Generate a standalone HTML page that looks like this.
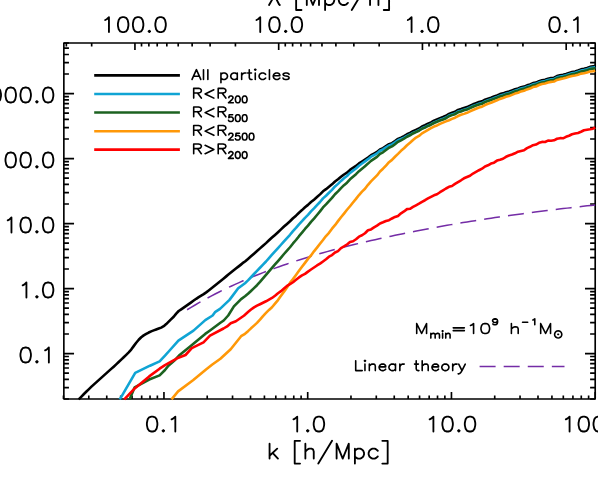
<!DOCTYPE html>
<html><head><meta charset="utf-8"><title>Power spectrum</title>
<style>html,body{margin:0;padding:0;overflow:hidden;background:#fff;font-family:"Liberation Sans",sans-serif}svg{display:block;filter:blur(0.3px)}</style></head>
<body>
<svg width="598" height="482" viewBox="0 0 598 482" role="img" aria-label="Power spectrum versus wavenumber k [h/Mpc] for all particles and for particles inside and outside halo radii, with linear theory">
<rect width="598" height="482" fill="#fff"/>
<path d="M63.85 399h5.1M595.2 399h-5.1M63.85 387.55h5.1M595.2 387.55h-5.1M63.85 379.43h5.1M595.2 379.43h-5.1M63.85 373.13h5.1M595.2 373.13h-5.1M63.85 367.99h5.1M595.2 367.99h-5.1M63.85 363.64h5.1M595.2 363.64h-5.1M63.85 359.87h5.1M595.2 359.87h-5.1M63.85 356.54h5.1M595.2 356.54h-5.1M63.85 353.57h10.2M595.2 353.57h-10.2M63.85 334h5.1M595.2 334h-5.1M63.85 322.56h5.1M595.2 322.56h-5.1M63.85 314.44h5.1M595.2 314.44h-5.1M63.85 308.14h5.1M595.2 308.14h-5.1M63.85 302.99h5.1M595.2 302.99h-5.1M63.85 298.64h5.1M595.2 298.64h-5.1M63.85 294.87h5.1M595.2 294.87h-5.1M63.85 291.55h5.1M595.2 291.55h-5.1M63.85 288.57h10.2M595.2 288.57h-10.2M63.85 269h5.1M595.2 269h-5.1M63.85 257.56h5.1M595.2 257.56h-5.1M63.85 249.44h5.1M595.2 249.44h-5.1M63.85 243.14h5.1M595.2 243.14h-5.1M63.85 237.99h5.1M595.2 237.99h-5.1M63.85 233.64h5.1M595.2 233.64h-5.1M63.85 229.87h5.1M595.2 229.87h-5.1M63.85 226.55h5.1M595.2 226.55h-5.1M63.85 223.57h10.2M595.2 223.57h-10.2M63.85 204.01h5.1M595.2 204.01h-5.1M63.85 192.56h5.1M595.2 192.56h-5.1M63.85 184.44h5.1M595.2 184.44h-5.1M63.85 178.14h5.1M595.2 178.14h-5.1M63.85 173h5.1M595.2 173h-5.1M63.85 168.64h5.1M595.2 168.64h-5.1M63.85 164.87h5.1M595.2 164.87h-5.1M63.85 161.55h5.1M595.2 161.55h-5.1M63.85 158.58h10.2M595.2 158.58h-10.2M63.85 139.01h5.1M595.2 139.01h-5.1M63.85 127.56h5.1M595.2 127.56h-5.1M63.85 119.44h5.1M595.2 119.44h-5.1M63.85 113.14h5.1M595.2 113.14h-5.1M63.85 108h5.1M595.2 108h-5.1M63.85 103.65h5.1M595.2 103.65h-5.1M63.85 99.88h5.1M595.2 99.88h-5.1M63.85 96.55h5.1M595.2 96.55h-5.1M63.85 93.58h10.2M595.2 93.58h-10.2M63.85 74.01h5.1M595.2 74.01h-5.1M63.85 62.57h5.1M595.2 62.57h-5.1M63.85 54.45h5.1M595.2 54.45h-5.1M63.85 48.15h5.1M595.2 48.15h-5.1M63.85 43h5.1M595.2 43h-5.1M63.47 399v-3.5M88.79 399v-3.5M106.75 399v-3.5M120.68 399v-3.5M132.06 399v-3.5M141.68 399v-3.5M150.02 399v-3.5M157.37 399v-3.5M163.95 399v-7.1M207.22 399v-3.5M232.54 399v-3.5M250.5 399v-3.5M264.43 399v-3.5M275.81 399v-3.5M285.43 399v-3.5M293.77 399v-3.5M301.12 399v-3.5M307.7 399v-7.1M350.97 399v-3.5M376.29 399v-3.5M394.25 399v-3.5M408.18 399v-3.5M419.56 399v-3.5M429.18 399v-3.5M437.52 399v-3.5M444.87 399v-3.5M451.45 399v-7.1M494.72 399v-3.5M520.04 399v-3.5M538 399v-3.5M551.93 399v-3.5M563.31 399v-3.5M572.93 399v-3.5M581.27 399v-3.5M588.62 399v-3.5M595.2 399v-7.1M588.46 43v3.5M580.12 43v3.5M572.77 43v3.5M566.19 43v7.1M522.92 43v3.5M497.6 43v3.5M479.64 43v3.5M465.71 43v3.5M454.33 43v3.5M444.71 43v3.5M436.37 43v3.5M429.02 43v3.5M422.44 43v7.1M379.17 43v3.5M353.85 43v3.5M335.89 43v3.5M321.96 43v3.5M310.58 43v3.5M300.96 43v3.5M292.62 43v3.5M285.27 43v3.5M278.69 43v7.1M235.42 43v3.5M210.1 43v3.5M192.14 43v3.5M178.21 43v3.5M166.83 43v3.5M157.21 43v3.5M148.87 43v3.5M141.52 43v3.5M134.94 43v7.1M91.67 43v3.5M66.35 43v3.5" fill="none" stroke="#000" stroke-width="1.65" stroke-linecap="butt"/>
<rect x="63.85" y="43.0" width="531.35" height="356.0" fill="none" stroke="#000" stroke-width="1.65" stroke-linejoin="round"/>
<g fill="none" stroke-linejoin="round" stroke-linecap="butt">
<path d="M187.1 309.76L191.1 307.34L195.1 304.99L199.1 302.69L203.1 300.45L207.1 298.26L211.1 296.12L215.1 294.04L219.1 292.01L223.1 290.03L227.1 288.09L231.1 286.21L235.1 284.36L239.1 282.56L243.1 280.81L247.1 279.09L251.1 277.42L255.1 275.78L259.1 274.18L263.1 272.62L267.1 271.09L271.1 269.59L275.1 268.13L279.1 266.7L283.1 265.29L287.1 263.92L291.1 262.57L295.1 261.26L299.1 259.97L303.1 258.7L307.1 257.46L311.1 256.25L315.1 255.06L319.1 253.89L323.1 252.75L327.1 251.63L331.1 250.53L335.1 249.45L339.1 248.4L343.1 247.36L347.1 246.34L351.1 245.34L355.1 244.35L359.1 243.38L363.1 242.43L367.1 241.5L371.1 240.57L375.1 239.67L379.1 238.77L383.1 237.89L387.1 237.02L391.1 236.16L395.1 235.31L399.1 234.48L403.1 233.66L407.1 232.85L411.1 232.05L415.1 231.26L419.1 230.48L423.1 229.71L427.1 228.96L431.1 228.21L435.1 227.47L439.1 226.75L443.1 226.03L447.1 225.33L451.1 224.63L455.1 223.95L459.1 223.27L463.1 222.61L467.1 221.95L471.1 221.3L475.1 220.66L479.1 220.03L483.1 219.41L487.1 218.8L491.1 218.19L495.1 217.6L499.1 217.01L503.1 216.43L507.1 215.86L511.1 215.29L515.1 214.74L519.1 214.19L523.1 213.64L527.1 213.11L531.1 212.58L535.1 212.06L539.1 211.55L543.1 211.04L547.1 210.54L551.1 210.04L555.1 209.55L559.1 209.07L563.1 208.59L567.1 208.12L571.1 207.65L575.1 207.19L579.1 206.74L583.1 206.28L587.1 205.84L591.1 205.4L595.1 204.96L595.2 204.95" stroke="#742ca6" stroke-width="1.5" stroke-dasharray="16.0 8.08" stroke-dashoffset="0.5"/>
<path d="M78.7 399.4L81.2 396.83L83.7 394.28L86.2 391.76L88.7 389.31L91.2 386.92L93.7 384.63L96.2 382.38L98.7 380.13L101.2 377.88L103.7 375.63L106.2 373.39L108.7 371.15L111.2 368.9L113.7 366.67L116.2 364.41L118.7 362.06L121.2 359.67L123.7 357.28L126.2 354.84L128.7 352.3L131.2 349.57L133.7 346.12L136.2 342.79L138.7 339.77L141.2 337.26L143.7 335.4L146.2 333.92L148.7 332.53L151.2 331.38L153.7 330.41L156.2 329.46L158.7 328.56L161.2 327.64L163.7 326.23L166.2 324.09L168.7 321.65L171.2 319.19L173.7 316.76L176.2 313.58L178.7 311.01L181.2 309.31L183.7 307.62L186.2 305.88L188.7 304.1L191.2 302.32L193.7 300.55L196.2 298.79L198.7 297.16L201.2 295.64L203.7 294.08L206.2 292.37L208.7 290.49L211.2 288.53L213.7 286.52L216.2 284.49L218.7 282.46L221.2 280.43L223.7 278.4L226.2 276.37L228.7 274.35L231.2 272.33L233.7 270.34L236.2 268.35L238.7 266.37L241.2 264.37L243.7 262.35L245 261.44L248 258.89L251 256.3L254 253.67L257 251.04L260 248.36L263 245.73L266 243.11L269 240.29L272 237.56L275 234.92L278 232.17L281 229.41L284 226.56L287 223.91L290 221.26L293 218.26L296 215.65L299 212.71L302 210.09L305 207.3L308 204.88L311 202.03L314 199.68L317 197.04L320 194.37L323 191.29L326 189.17L329 186.77L332 184.32L335 181.46L338 179.3L341 176.8L344 174.49L347 172.66L350 169.93L353 167.91L356 165.96L359 163.46L362 161.49L365 159.49L368 157.46L371 155.17L374 153.55L377 151.97L380 149.38L383 148.14L386 146.15L389 144.19L392 143.11L395 141.09L398 138.92L401 137.58L404 136.08L407 134.29L410 132.92L413 131.18L416 129.83L419 128.51L422 126.5L425 125.25L428 123.64L431 122.36L434 120.63L437 119.4L440 118.13L443 117.06L446 115.8L449 113.87L452 112.72L455 111.81L458 109.9L461 109.05L464 107.93L467 107.07L470 105.74L473 104.32L476 103.16L479 102.05L482 101.36L485 99.74L488 98.66L491 97.72L494 96.51L497 95.41L500 94.12L503 93.35L506 92.2L509 91.58L512 90.43L515 89.26L518 88.44L521 87.21L524 86.58L527 85.35L530 84.55L533 83.13L536 82.61L539 81.17L542 80.18L545 79.73L548 78.7L551 78.09L554 77.74L557 76.11L560 75.31L563 74.67L566 73.89L569 72.89L572 72.04L575 71.44L578 70.56L581 69.35L584 68.77L587 67.98L590 66.89L593 66.4L595.2 65.74" stroke="#000" stroke-width="2.6"/>
<path d="M119.7 399.4L122.3 395.1L135.2 372.8L150 365.7L159.6 361.4L165 355.7L169.6 350.5L178.4 340.6L193.5 330.6L205.3 320.1L212.6 315.5L215 312.2L220 308.9L229.5 299.9L238.2 288.3L245 283.23L248 280.42L251 277.25L254 274L257 270.87L260 267.75L263 264.66L266 261.5L269 258.08L272 254.74L275 251.48L278 248.13L281 244.76L284 241.29L287 238.04L290 234.78L293 231.18L296 227.96L299 224.42L302 221.2L305 217.81L308 214.81L311 211.37L314 208.44L317 205.23L320 202L323 198.37L326 195.71L329 192.79L332 189.84L335 186.49L338 183.88L341 180.94L344 178.24L347 176.03L350 172.96L353 170.64L356 168.42L359 165.68L362 163.5L365 161.33L368 159.15L371 156.73L374 155.01L377 153.35L380 150.7L383 149.43L386 147.43L389 145.47L392 144.4L395 142.41L398 140.28L401 139L404 137.57L407 135.85L410 134.56L413 132.87L416 131.57L419 130.29L422 128.3L425 127.06L428 125.45L431 124.16L434 122.4L437 121.14L440 119.83L443 118.76L446 117.5L449 115.57L452 114.42L455 113.51L458 111.6L461 110.75L464 109.63L467 108.77L470 107.44L473 106.02L476 104.86L479 103.75L482 103.04L485 101.4L488 100.28L491 99.32L494 98.08L497 96.96L500 95.64L503 94.84L506 93.67L509 93.02L512 91.85L515 90.65L518 89.8L521 88.54L524 87.89L527 86.63L530 85.8L533 84.38L536 83.86L539 82.42L542 81.43L545 80.98L548 79.95L551 79.34L554 78.99L557 77.36L560 76.56L563 75.92L566 75.14L569 74.14L572 73.29L575 72.69L578 71.81L581 70.6L584 70.02L587 69.23L590 68.14L593 67.65L595.2 66.99" stroke="#10a4d4" stroke-width="2.6"/>
<path d="M129.5 399.4L134.7 387.3L149.2 379.5L159.6 375.4L165 370L168.4 365.7L175.3 359.7L179 355.5L190.1 346.5L205.2 333.9L210 330.5L220.4 322.8L223.7 320.5L228.2 315.5L233.9 306.4L241.1 299.1L245 296.27L248 293.8L251 290.95L254 288.11L257 285.2L260 281.87L263 278.36L266 274.91L269 271.31L272 267.83L275 264.47L278 261.03L281 257.57L284 254.01L287 250.64L290 247.24L293 243.44L296 239.99L299 236.19L302 232.67L305 228.96L308 225.63L311 221.85L314 218.56L317 214.99L320 211.4L323 207.43L326 204.43L329 201.18L332 197.92L335 194.28L338 191.39L341 188.17L344 185.19L347 182.71L350 179.35L353 176.72L356 174.2L359 171.14L362 168.63L365 166.13L368 163.62L371 160.87L374 158.83L377 156.84L380 153.88L383 152.3L386 150L389 147.75L392 146.42L395 144.17L398 141.8L401 140.3L404 138.66L407 136.75L410 135.29L413 133.48L416 132.09L419 130.77L422 128.76L425 127.54L428 125.95L431 124.71L434 123L437 121.79L440 120.54L443 119.47L446 118.2L449 116.27L452 115.12L455 114.21L458 112.3L461 111.45L464 110.33L467 109.47L470 108.14L473 106.72L476 105.56L479 104.45L482 103.75L485 102.13L488 101.03L491 100.08L494 98.87L497 97.76L500 96.46L503 95.68L506 94.52L509 93.89L512 92.74L515 91.56L518 90.73L521 89.48L524 88.85L527 87.61L530 86.8L533 85.38L536 84.86L539 83.42L542 82.43L545 81.98L548 80.95L551 80.34L554 79.99L557 78.36L560 77.56L563 76.92L566 76.14L569 75.14L572 74.29L575 73.69L578 72.81L581 71.6L584 71.02L587 70.23L590 69.14L593 68.65L595.2 67.99" stroke="#1c6220" stroke-width="2.6"/>
<path d="M171.5 399.4L178.1 391.4L193 380.2L206 369.4L212 364.7L220.4 358.7L230.7 349.2L241.1 336.2L245 333.78L248 331.17L251 328.32L254 325.63L257 322.88L260 319.65L263 316.12L266 312.92L269 309.94L272 307.21L275 303.61L278 300.06L281 295.85L284 291.79L287 287.4L290 282.89L293 279.04L296 274.96L299 270.71L302 266.72L305 262.85L308 258.86L311 255.42L314 251.33L317 247.65L320 243.72L323 239.96L326 236.02L329 232.81L332 228.68L335 225.17L338 221.15L341 217.21L344 213.56L347 209.78L350 206.24L353 202.48L356 198.88L359 195.04L362 191.65L365 188.79L368 184.79L371 181.34L374 178.4L377 175.43L380 171.54L383 168.73L386 165.55L389 162.24L392 159.88L395 156.75L398 153.87L401 150.79L404 148.28L407 145.29L410 142.74L413 139.96L416 137.53L419 135.92L422 133.38L425 131.67L428 129.83L431 128.09L434 126.56L437 125.42L440 123.84L443 122.58L446 121.38L449 120.23L452 118.88L455 117.69L458 116.01L461 114.83L464 113.88L467 112.84L470 111.41L473 110L476 108.74L479 107.51L482 106.72L485 105.01L488 103.83L491 102.79L494 101.49L497 100.3L500 98.92L503 98.05L506 96.81L509 96.1L512 94.87L515 93.62L518 92.72L521 91.41L524 90.72L527 89.42L530 88.56L533 87.09L536 86.52L539 85.04L542 84.02L545 83.54L548 82.5L551 81.88L554 81.54L557 79.92L560 79.14L563 78.52L566 77.79L569 76.84L572 76.06L575 75.54L578 74.75L581 73.64L584 73.18L587 72.52L590 71.58L593 71.25L595.2 70.72" stroke="#ff9808" stroke-width="2.6"/>
<path d="M124.3 399.4L134.7 388.4L149.2 376.4L159.6 368.7L165 365.1L177.1 358.3L185.5 355L191.8 348.1L203.5 342.3L210 335.7L223.5 328.5L227.1 326.4L230.7 323.3L235.9 321.2L244.2 315.5L245 314.66L248 312.01L251 309.53L254 307.39L257 305.68L260 304.22L263 302.74L266 301.29L269 299.64L272 297.96L275 295.77L278 293.26L281 291.15L284 288.57L287 285.96L290 284.13L293 282.26L296 279.83L299 277.43L302 275.4L305 273.86L308 271.59L311 269.54L314 267.49L317 265.48L320 263.66L323 261.49L326 259.26L329 256.69L332 255.1L335 252.52L338 251.08L341 248.09L344 246.46L347 244.5L350 242.04L353 241.27L356 239.28L359 236.67L362 235.27L365 233.26L368 230.25L371 229.45L374 227.44L377 225.66L380 223.52L383 222.3L386 220.95L389 220.14L392 218.48L395 216.91L398 215.9L401 213.28L404 211.43L407 209.13L410 208.77L413 206.95L416 205.33L419 203.63L422 201.81L425 200.23L428 198.44L431 196.83L434 195.3L437 194.22L440 192.22L443 190.34L446 188.5L449 186.82L452 186.02L455 183.94L458 182.1L461 180.27L464 178.31L467 177.02L470 175.69L473 173.52L476 171.9L479 170.22L482 168.69L485 166.41L488 165.32L491 163.53L494 162.68L497 160.59L500 159.71L503 158.75L506 156.79L509 155.46L512 154.56L515 153.29L518 151.69L521 150.98L524 150.26L527 148.08L530 146.79L533 145.2L536 144.53L539 142.83L542 141.92L545 142.01L548 140.56L551 140.82L554 140.3L557 138.74L560 138.17L563 138.3L566 136.84L569 135.74L572 134.29L575 133.59L578 132.95L581 131.72L584 130.23L587 129.74L590 129.29L593 128.68L595.2 127.51" stroke="#ff0000" stroke-width="2.6"/>
</g>
<path d="M151.38 431.5L149.14 430.79L147.64 428.65L146.89 425.09L146.89 422.96L147.64 419.4L149.14 417.26L151.38 416.55L152.88 416.55L155.12 417.26L156.62 419.4L157.37 422.96L157.37 425.09L156.62 428.65L155.12 430.79L152.88 431.5L151.38 431.5M164.1 430.79L163.35 430.08L162.6 430.79L163.35 431.5L164.1 430.79M175.32 431.5L175.32 416.55L173.07 418.68L171.58 419.4M297.23 431.5L297.23 416.55L294.98 418.68L293.49 419.4M308.45 430.79L307.7 430.08L306.95 430.79L307.7 431.5L308.45 430.79M318.17 431.5L315.93 430.79L314.43 428.65L313.68 425.09L313.68 422.96L314.43 419.4L315.93 417.26L318.17 416.55L319.67 416.55L321.91 417.26L323.41 419.4L324.16 422.96L324.16 425.09L323.41 428.65L321.91 430.79L319.67 431.5L318.17 431.5M433.4 431.5L433.4 416.55L431.15 418.68L429.66 419.4M446.86 431.5L444.62 430.79L443.12 428.65L442.37 425.09L442.37 422.96L443.12 419.4L444.62 417.26L446.86 416.55L448.36 416.55L450.6 417.26L452.1 419.4L452.85 422.96L452.85 425.09L452.1 428.65L450.6 430.79L448.36 431.5L446.86 431.5M459.58 430.79L458.83 430.08L458.08 430.79L458.83 431.5L459.58 430.79M469.3 431.5L467.06 430.79L465.56 428.65L464.81 425.09L464.81 422.96L465.56 419.4L467.06 417.26L469.3 416.55L470.8 416.55L473.04 417.26L474.54 419.4L475.29 422.96L475.29 425.09L474.54 428.65L473.04 430.79L470.8 431.5L469.3 431.5M569.57 431.5L569.57 416.55L567.32 418.68L565.83 419.4M583.03 431.5L580.79 430.79L579.29 428.65L578.54 425.09L578.54 422.96L579.29 419.4L580.79 417.26L583.03 416.55L584.53 416.55L586.77 417.26L588.27 419.4L589.02 422.96L589.02 425.09L588.27 428.65L586.77 430.79L584.53 431.5L583.03 431.5M597.99 431.5L595.75 430.79L594.25 428.65L593.5 425.09L593.5 422.96L594.25 419.4L595.75 417.26L597.99 416.55L599.49 416.55L601.73 417.26L603.23 419.4L603.98 422.96L603.98 425.09L603.23 428.65L601.73 430.79L599.49 431.5L597.99 431.5M610.71 430.79L609.96 430.08L609.21 430.79L609.96 431.5L610.71 430.79M620.43 431.5L618.19 430.79L616.69 428.65L615.94 425.09L615.94 422.96L616.69 419.4L618.19 417.26L620.43 416.55L621.93 416.55L624.17 417.26L625.67 419.4L626.42 422.96L626.42 425.09L625.67 428.65L624.17 430.79L621.93 431.5L620.43 431.5M108.96 32.1L108.96 17.15L106.71 19.28L105.22 20M122.42 32.1L120.18 31.39L118.68 29.25L117.93 25.69L117.93 23.56L118.68 20L120.18 17.86L122.42 17.15L123.92 17.15L126.16 17.86L127.66 20L128.4 23.56L128.4 25.69L127.66 29.25L126.16 31.39L123.92 32.1L122.42 32.1M137.38 32.1L135.14 31.39L133.64 29.25L132.89 25.69L132.89 23.56L133.64 20L135.14 17.86L137.38 17.15L138.88 17.15L141.12 17.86L142.62 20L143.36 23.56L143.36 25.69L142.62 29.25L141.12 31.39L138.88 32.1L137.38 32.1M150.1 31.39L149.35 30.68L148.6 31.39L149.35 32.1L150.1 31.39M159.82 32.1L157.58 31.39L156.08 29.25L155.33 25.69L155.33 23.56L156.08 20L157.58 17.86L159.82 17.15L161.32 17.15L163.56 17.86L165.06 20L165.8 23.56L165.8 25.69L165.06 29.25L163.56 31.39L161.32 32.1L159.82 32.1M260.24 32.1L260.24 17.15L257.99 19.28L256.5 20M273.7 32.1L271.46 31.39L269.96 29.25L269.21 25.69L269.21 23.56L269.96 20L271.46 17.86L273.7 17.15L275.2 17.15L277.44 17.86L278.94 20L279.68 23.56L279.68 25.69L278.94 29.25L277.44 31.39L275.2 32.1L273.7 32.1M286.42 31.39L285.67 30.68L284.92 31.39L285.67 32.1L286.42 31.39M296.14 32.1L293.9 31.39L292.4 29.25L291.65 25.69L291.65 23.56L292.4 20L293.9 17.86L296.14 17.15L297.64 17.15L299.88 17.86L301.38 20L302.12 23.56L302.12 25.69L301.38 29.25L299.88 31.39L297.64 32.1L296.14 32.1M411.57 32.1L411.57 17.15L409.32 19.28L407.83 20M422.79 31.39L422.04 30.68L421.29 31.39L422.04 32.1L422.79 31.39M432.51 32.1L430.27 31.39L428.77 29.25L428.02 25.69L428.02 23.56L428.77 20L430.27 17.86L432.51 17.15L434.01 17.15L436.25 17.86L437.75 20L438.49 23.56L438.49 25.69L437.75 29.25L436.25 31.39L434.01 32.1L432.51 32.1M553.82 32.1L551.58 31.39L550.08 29.25L549.33 25.69L549.33 23.56L550.08 20L551.58 17.86L553.82 17.15L555.32 17.15L557.56 17.86L559.06 20L559.8 23.56L559.8 25.69L559.06 29.25L557.56 31.39L555.32 32.1L553.82 32.1M566.54 31.39L565.79 30.68L565.04 31.39L565.79 32.1L566.54 31.39M577.76 32.1L577.76 17.15L575.51 19.28L574.02 20M-18.46 102.48L-18.46 87.53L-20.7 89.66L-22.2 90.37M-4.99 102.48L-7.24 101.77L-8.73 99.63L-9.48 96.07L-9.48 93.93L-8.73 90.37L-7.24 88.24L-4.99 87.53L-3.5 87.53L-1.25 88.24L0.24 90.37L0.99 93.93L0.99 96.07L0.24 99.63L-1.25 101.77L-3.5 102.48L-4.99 102.48M9.97 102.48L7.72 101.77L6.23 99.63L5.48 96.07L5.48 93.93L6.23 90.37L7.72 88.24L9.97 87.53L11.46 87.53L13.71 88.24L15.2 90.37L15.95 93.93L15.95 96.07L15.2 99.63L13.71 101.77L11.46 102.48L9.97 102.48M24.93 102.48L22.68 101.77L21.19 99.63L20.44 96.07L20.44 93.93L21.19 90.37L22.68 88.24L24.93 87.53L26.42 87.53L28.67 88.24L30.16 90.37L30.91 93.93L30.91 96.07L30.16 99.63L28.67 101.77L26.42 102.48L24.93 102.48M37.64 101.77L36.89 101.05L36.15 101.77L36.89 102.48L37.64 101.77M47.37 102.48L45.12 101.77L43.63 99.63L42.88 96.07L42.88 93.93L43.63 90.37L45.12 88.24L47.37 87.53L48.86 87.53L51.11 88.24L52.6 90.37L53.35 93.93L53.35 96.07L52.6 99.63L51.11 101.77L48.86 102.48L47.37 102.48M-3.5 167.48L-3.5 152.52L-5.74 154.66L-7.24 155.37M9.97 167.48L7.72 166.76L6.23 164.63L5.48 161.07L5.48 158.93L6.23 155.37L7.72 153.24L9.97 152.52L11.46 152.52L13.71 153.24L15.2 155.37L15.95 158.93L15.95 161.07L15.2 164.63L13.71 166.76L11.46 167.48L9.97 167.48M24.93 167.48L22.68 166.76L21.19 164.63L20.44 161.07L20.44 158.93L21.19 155.37L22.68 153.24L24.93 152.52L26.42 152.52L28.67 153.24L30.16 155.37L30.91 158.93L30.91 161.07L30.16 164.63L28.67 166.76L26.42 167.48L24.93 167.48M37.64 166.76L36.89 166.05L36.15 166.76L36.89 167.48L37.64 166.76M47.37 167.48L45.12 166.76L43.63 164.63L42.88 161.07L42.88 158.93L43.63 155.37L45.12 153.24L47.37 152.52L48.86 152.52L51.11 153.24L52.6 155.37L53.35 158.93L53.35 161.07L52.6 164.63L51.11 166.76L48.86 167.48L47.37 167.48M11.46 232.47L11.46 217.52L9.22 219.66L7.72 220.37M24.93 232.47L22.68 231.76L21.19 229.63L20.44 226.07L20.44 223.93L21.19 220.37L22.68 218.23L24.93 217.52L26.42 217.52L28.67 218.23L30.16 220.37L30.91 223.93L30.91 226.07L30.16 229.63L28.67 231.76L26.42 232.47L24.93 232.47M37.64 231.76L36.89 231.05L36.15 231.76L36.89 232.47L37.64 231.76M47.37 232.47L45.12 231.76L43.63 229.63L42.88 226.07L42.88 223.93L43.63 220.37L45.12 218.23L47.37 217.52L48.86 217.52L51.11 218.23L52.6 220.37L53.35 223.93L53.35 226.07L52.6 229.63L51.11 231.76L48.86 232.47L47.37 232.47M26.42 297.47L26.42 282.52L24.18 284.65L22.68 285.37M37.64 296.76L36.89 296.05L36.15 296.76L36.89 297.47L37.64 296.76M47.37 297.47L45.12 296.76L43.63 294.62L42.88 291.06L42.88 288.93L43.63 285.37L45.12 283.23L47.37 282.52L48.86 282.52L51.11 283.23L52.6 285.37L53.35 288.93L53.35 291.06L52.6 294.62L51.11 296.76L48.86 297.47L47.37 297.47M24.93 362.47L22.68 361.76L21.19 359.62L20.44 356.06L20.44 353.92L21.19 350.36L22.68 348.23L24.93 347.52L26.42 347.52L28.67 348.23L30.16 350.36L30.91 353.92L30.91 356.06L30.16 359.62L28.67 361.76L26.42 362.47L24.93 362.47M37.64 361.76L36.89 361.04L36.15 361.76L36.89 362.47L37.64 361.76M48.86 362.47L48.86 347.52L46.62 349.65L45.12 350.36M269.56 443.65L269.56 458.6M277.18 448.63L269.56 455.75M272.6 452.9L277.94 458.6M300.04 463.58L294.7 463.58L294.7 440.8L300.04 440.8M305.37 443.65L305.37 458.6M305.37 451.48L307.66 449.34L309.18 448.63L311.47 448.63L312.99 449.34L313.75 451.48L313.75 458.6M332.04 440.8L318.32 463.58M348.8 458.6L348.8 443.65L342.71 458.6L336.61 443.65L336.61 458.6M354.9 448.63L354.9 463.58M354.9 450.77L356.42 449.34L357.95 448.63L360.23 448.63L361.76 449.34L363.28 450.77L364.04 452.9L364.04 454.33L363.28 456.46L361.76 457.89L360.23 458.6L357.95 458.6L356.42 457.89L354.9 456.46M377.76 456.46L376.24 457.89L374.71 458.6L372.43 458.6L370.9 457.89L369.38 456.46L368.62 454.33L368.62 452.9L369.38 450.77L370.9 449.34L372.43 448.63L374.71 448.63L376.24 449.34L377.76 450.77M382.33 440.8L387.67 440.8L387.67 463.58L382.33 463.58M269.47 -9.95L270.99 -9.95L272.51 -8.53L278.99 4.29L279.75 5M274.5 -4.54L269.08 5M301.47 9.98L296.14 9.98L296.14 -12.8L301.47 -12.8M319 5L319 -9.95L312.9 5L306.8 -9.95L306.8 5M325.09 -4.97L325.09 9.98M325.09 -2.83L326.62 -4.26L328.14 -4.97L330.43 -4.97L331.95 -4.26L333.47 -2.83L334.24 -0.7L334.24 0.73L333.47 2.86L331.95 4.29L330.43 5L328.14 5L326.62 4.29L325.09 2.86M347.95 2.86L346.43 4.29L344.9 5L342.62 5L341.09 4.29L339.57 2.86L338.81 0.73L338.81 -0.7L339.57 -2.83L341.09 -4.26L342.62 -4.97L344.9 -4.97L346.43 -4.26L347.95 -2.83M365.48 -12.8L351.76 9.98M370.05 -9.95L370.05 5M370.05 -2.12L372.34 -4.26L373.86 -4.97L376.15 -4.97L377.67 -4.26L378.43 -2.12L378.43 5M383.77 -12.8L389.1 -12.8L389.1 9.98L383.77 9.98" fill="none" stroke="#000" stroke-width="1.85" stroke-linecap="round" stroke-linejoin="round"/>
<path d="M94.2 75.35H179.9" stroke="#000" stroke-width="2.6" fill="none"/>
<path d="M94.2 94.0H179.9" stroke="#10a4d4" stroke-width="2.6" fill="none"/>
<path d="M94.2 112.5H179.9" stroke="#1c6220" stroke-width="2.6" fill="none"/>
<path d="M94.2 131.2H179.9" stroke="#ff9808" stroke-width="2.6" fill="none"/>
<path d="M94.2 149.6H179.9" stroke="#ff0000" stroke-width="2.6" fill="none"/>
<path d="M200.77 79.45L196.41 69.69L192.05 79.45M193.69 76.2L199.14 76.2M203.5 69.69L203.5 79.45M207.86 69.69L207.86 79.45M220.94 72.94L220.94 82.7M220.94 74.34L222.03 73.41L223.12 72.94L224.75 72.94L225.84 73.41L226.93 74.34L227.48 75.73L227.48 76.66L226.93 78.06L225.84 78.98L224.75 79.45L223.12 79.45L222.03 78.98L220.94 78.06M237.29 78.06L236.2 78.98L235.11 79.45L233.47 79.45L232.38 78.98L231.29 78.06L230.75 76.66L230.75 75.73L231.29 74.34L232.38 73.41L233.47 72.94L235.11 72.94L236.2 73.41L237.29 74.34M237.29 72.94L237.29 79.45M241.65 72.94L241.65 79.45M241.65 75.73L242.19 74.34L243.28 73.41L244.37 72.94L246.01 72.94M249.28 69.69L249.28 77.59L249.82 78.98L250.91 79.45L252 79.45M247.64 72.94L251.46 72.94M255.82 69.69L255.27 69.22L254.73 69.69L255.27 70.15L255.82 69.69M255.27 72.94L255.27 79.45M265.63 78.06L264.54 78.98L263.45 79.45L261.81 79.45L260.72 78.98L259.63 78.06L259.09 76.66L259.09 75.73L259.63 74.34L260.72 73.41L261.81 72.94L263.45 72.94L264.54 73.41L265.63 74.34M269.44 69.69L269.44 79.45M273.26 75.73L273.8 74.34L274.89 73.41L275.98 72.94L277.62 72.94L278.71 73.41L279.25 73.87L279.8 74.8L279.8 75.73L273.26 75.73L273.26 76.66L273.8 78.06L274.89 78.98L275.98 79.45L277.62 79.45L278.71 78.98L279.8 78.06M283.07 78.06L283.61 78.98L285.25 79.45L286.88 79.45L288.52 78.98L289.06 78.06L289.06 77.59L288.52 76.66L287.43 76.2L284.7 75.73L283.61 75.27L283.07 74.34L283.61 73.41L285.25 72.94L286.88 72.94L288.52 73.41L289.06 74.34M193.69 98.1L193.69 88.33L198.59 88.33L200.23 88.8L200.77 89.26L201.32 90.19L201.32 91.12L200.77 92.05L200.23 92.52L198.59 92.98L193.69 92.98M197.5 92.98L201.32 98.1M213.85 89.73L205.13 93.91L213.85 98.1M218.21 98.1L218.21 88.33L223.12 88.33L224.75 88.8L225.3 89.26L225.84 90.19L225.84 91.12L225.3 92.05L224.75 92.52L223.12 92.98L218.21 92.98M222.03 92.98L225.84 98.1M228.85 97.67L228.85 97.35L229.19 96.7L229.54 96.38L230.22 96.06L231.6 96.06L232.28 96.38L232.63 96.7L232.97 97.35L232.97 97.99L232.63 98.63L231.94 99.59L228.51 102.8L233.31 102.8M237.43 102.8L236.4 102.48L235.72 101.52L235.37 99.91L235.37 98.95L235.72 97.35L236.4 96.38L237.43 96.06L238.12 96.06L239.15 96.38L239.84 97.35L240.18 98.95L240.18 99.91L239.84 101.52L239.15 102.48L238.12 102.8L237.43 102.8M244.3 102.8L243.27 102.48L242.58 101.52L242.24 99.91L242.24 98.95L242.58 97.35L243.27 96.38L244.3 96.06L244.99 96.06L246.02 96.38L246.7 97.35L247.05 98.95L247.05 99.91L246.7 101.52L246.02 102.48L244.99 102.8L244.3 102.8M193.69 116.8L193.69 107.03L198.59 107.03L200.23 107.5L200.77 107.97L201.32 108.89L201.32 109.83L200.77 110.75L200.23 111.22L198.59 111.69L193.69 111.69M197.5 111.69L201.32 116.8M213.85 108.43L205.13 112.61L213.85 116.8M218.21 116.8L218.21 107.03L223.12 107.03L224.75 107.5L225.3 107.97L225.84 108.89L225.84 109.83L225.3 110.75L224.75 111.22L223.12 111.69L218.21 111.69M222.03 111.69L225.84 116.8M228.51 120.22L228.85 120.86L229.19 121.18L230.22 121.5L231.25 121.5L232.28 121.18L232.97 120.54L233.31 119.57L233.31 118.93L232.97 117.97L232.28 117.33L231.25 117.01L230.22 117.01L229.19 117.33L228.85 117.65L229.19 114.76L232.63 114.76M237.43 121.5L236.4 121.18L235.72 120.22L235.37 118.61L235.37 117.65L235.72 116.05L236.4 115.08L237.43 114.76L238.12 114.76L239.15 115.08L239.84 116.05L240.18 117.65L240.18 118.61L239.84 120.22L239.15 121.18L238.12 121.5L237.43 121.5M244.3 121.5L243.27 121.18L242.58 120.22L242.24 118.61L242.24 117.65L242.58 116.05L243.27 115.08L244.3 114.76L244.99 114.76L246.02 115.08L246.7 116.05L247.05 117.65L247.05 118.61L246.7 120.22L246.02 121.18L244.99 121.5L244.3 121.5M193.69 135.3L193.69 125.54L198.59 125.54L200.23 126L200.77 126.47L201.32 127.4L201.32 128.33L200.77 129.26L200.23 129.72L198.59 130.19L193.69 130.19M197.5 130.19L201.32 135.3M213.85 126.93L205.13 131.12L213.85 135.3M218.21 135.3L218.21 125.54L223.12 125.54L224.75 126L225.3 126.47L225.84 127.4L225.84 128.33L225.3 129.26L224.75 129.72L223.12 130.19L218.21 130.19M222.03 130.19L225.84 135.3M228.85 134.87L228.85 134.55L229.19 133.9L229.54 133.58L230.22 133.26L231.6 133.26L232.28 133.58L232.63 133.9L232.97 134.55L232.97 135.19L232.63 135.83L231.94 136.79L228.51 140L233.31 140M235.37 138.72L235.72 139.36L236.06 139.68L237.09 140L238.12 140L239.15 139.68L239.84 139.04L240.18 138.07L240.18 137.43L239.84 136.47L239.15 135.83L238.12 135.51L237.09 135.51L236.06 135.83L235.72 136.15L236.06 133.26L239.49 133.26M244.3 140L243.27 139.68L242.58 138.72L242.24 137.11L242.24 136.15L242.58 134.55L243.27 133.58L244.3 133.26L244.99 133.26L246.02 133.58L246.7 134.55L247.05 136.15L247.05 137.11L246.7 138.72L246.02 139.68L244.99 140L244.3 140M251.17 140L250.14 139.68L249.45 138.72L249.11 137.11L249.11 136.15L249.45 134.55L250.14 133.58L251.17 133.26L251.85 133.26L252.88 133.58L253.57 134.55L253.91 136.15L253.91 137.11L253.57 138.72L252.88 139.68L251.85 140L251.17 140M193.69 153.7L193.69 143.94L198.59 143.94L200.23 144.4L200.77 144.86L201.32 145.79L201.32 146.72L200.77 147.66L200.23 148.12L198.59 148.58L193.69 148.58M197.5 148.58L201.32 153.7M205.13 145.33L213.85 149.51L205.13 153.7M218.21 153.7L218.21 143.94L223.12 143.94L224.75 144.4L225.3 144.86L225.84 145.79L225.84 146.72L225.3 147.66L224.75 148.12L223.12 148.58L218.21 148.58M222.03 148.58L225.84 153.7M228.85 153.27L228.85 152.95L229.19 152.3L229.54 151.98L230.22 151.66L231.6 151.66L232.28 151.98L232.63 152.3L232.97 152.95L232.97 153.59L232.63 154.23L231.94 155.19L228.51 158.4L233.31 158.4M237.43 158.4L236.4 158.08L235.72 157.12L235.37 155.51L235.37 154.55L235.72 152.95L236.4 151.98L237.43 151.66L238.12 151.66L239.15 151.98L239.84 152.95L240.18 154.55L240.18 155.51L239.84 157.12L239.15 158.08L238.12 158.4L237.43 158.4M244.3 158.4L243.27 158.08L242.58 157.12L242.24 155.51L242.24 154.55L242.58 152.95L243.27 151.98L244.3 151.66L244.99 151.66L246.02 151.98L246.7 152.95L247.05 154.55L247.05 155.51L246.7 157.12L246.02 158.08L244.99 158.4L244.3 158.4" fill="none" stroke="#000" stroke-width="1.6" stroke-linecap="round" stroke-linejoin="round"/>
<path d="M426.56 333.5L426.56 323.59L421.63 333.5L416.7 323.59L416.7 333.5M430.84 333.41L430.84 338.1M430.84 334.75L432.02 333.74L432.8 333.41L433.98 333.41L434.76 333.74L435.16 334.75L436.33 333.74L437.12 333.41L438.3 333.41L439.08 333.74L439.47 334.75L439.47 338.1M435.16 334.75L435.16 338.1M443 331.06L442.61 330.73L442.22 331.06L442.61 331.4L443 331.06M442.61 333.41L442.61 338.1M445.75 333.41L445.75 338.1M445.75 334.75L446.93 333.74L447.71 333.41L448.89 333.41L449.67 333.74L450.07 334.75L450.07 338.1M453.25 327.84L464.34 327.84M453.25 330.67L464.34 330.67M473.58 333.5L473.58 323.59L471.73 325L470.5 325.48M484.67 333.5L482.82 333.03L481.59 331.61L480.97 329.25L480.97 327.84L481.59 325.48L482.82 324.06L484.67 323.59L485.9 323.59L487.75 324.06L488.98 325.48L489.6 327.84L489.6 329.25L488.98 331.61L487.75 333.03L485.9 333.5L484.67 333.5M494.88 322.53L493.74 322.25L492.97 321.68L492.59 320.84L492.59 320.55L492.97 319.7L493.74 319.14L494.88 318.85L495.26 318.85L496.41 319.14L497.17 319.7L497.56 320.84L497.17 321.68L496.41 322.25L495.26 322.53L494.88 322.53M497.56 320.84L497.56 322.25L497.17 323.67L496.41 324.52L495.26 324.8L494.5 324.8L493.36 324.52L492.97 323.95M511.4 323.59L511.4 333.5M511.4 328.78L513.25 327.36L514.48 326.89L516.33 326.89L517.56 327.36L518.18 328.78L518.18 333.5M522.55 322.25L527.71 322.25M534.77 324.8L534.77 318.85L533.63 319.7L532.87 319.99M550.53 333.5L550.53 323.59L545.6 333.5L540.68 323.59L540.68 333.5M561.8 334.4L561.62 335.51L561.11 336.52L560.32 337.31L559.31 337.82L558.2 338L557.09 337.82L556.08 337.31L555.29 336.52L554.78 335.51L554.6 334.4L554.78 333.29L555.29 332.28L556.08 331.49L557.09 330.98L558.2 330.8L559.31 330.98L560.32 331.49L561.11 332.28L561.62 333.29L561.8 334.4M557.9 334.4L558.5 334.4M355.7 360.83L355.7 370.6L362.24 370.6M365.51 360.83L364.96 360.37L364.42 360.83L364.96 361.3L365.51 360.83M364.96 364.09L364.96 370.6M369.32 364.09L369.32 370.6M369.32 365.95L370.96 364.55L372.05 364.09L373.69 364.09L374.77 364.55L375.32 365.95L375.32 370.6M379.13 366.88L379.68 365.48L380.77 364.55L381.86 364.09L383.5 364.09L384.58 364.55L385.13 365.02L385.68 365.95L385.68 366.88L379.13 366.88L379.13 367.81L379.68 369.2L380.77 370.13L381.86 370.6L383.5 370.6L384.58 370.13L385.68 369.2M395.49 369.2L394.39 370.13L393.31 370.6L391.67 370.6L390.58 370.13L389.49 369.2L388.94 367.81L388.94 366.88L389.49 365.48L390.58 364.55L391.67 364.09L393.31 364.09L394.39 364.55L395.49 365.48M395.49 364.09L395.49 370.6M399.85 364.09L399.85 370.6M399.85 366.88L400.39 365.48L401.48 364.55L402.57 364.09L404.21 364.09M416.2 360.83L416.2 368.74L416.74 370.13L417.83 370.6L418.92 370.6M414.56 364.09L418.38 364.09M422.19 360.83L422.19 370.6M422.19 365.95L423.83 364.55L424.92 364.09L426.55 364.09L427.64 364.55L428.19 365.95L428.19 370.6M432 366.88L432.55 365.48L433.64 364.55L434.73 364.09L436.36 364.09L437.45 364.55L438 365.02L438.54 365.95L438.54 366.88L432 366.88L432 367.81L432.55 369.2L433.64 370.13L434.73 370.6L436.36 370.6L437.45 370.13L438.54 369.2M444.54 370.6L443.45 370.13L442.36 369.2L441.81 367.81L441.81 366.88L442.36 365.48L443.45 364.55L444.54 364.09L446.17 364.09L447.26 364.55L448.35 365.48L448.9 366.88L448.9 367.81L448.35 369.2L447.26 370.13L446.17 370.6L444.54 370.6M452.71 364.09L452.71 370.6M452.71 366.88L453.26 365.48L454.35 364.55L455.44 364.09L457.07 364.09M458.71 364.09L461.98 370.6L465.25 364.09M461.98 370.6L460.89 372.46L459.8 373.39L458.71 373.85L458.16 373.85" fill="none" stroke="#000" stroke-width="1.6" stroke-linecap="round" stroke-linejoin="round"/>
<path d="M479.6 366.5H564.5" stroke="#742ca6" stroke-width="1.5" stroke-dasharray="16.0 8.08" fill="none"/>
</svg>
</body></html>
